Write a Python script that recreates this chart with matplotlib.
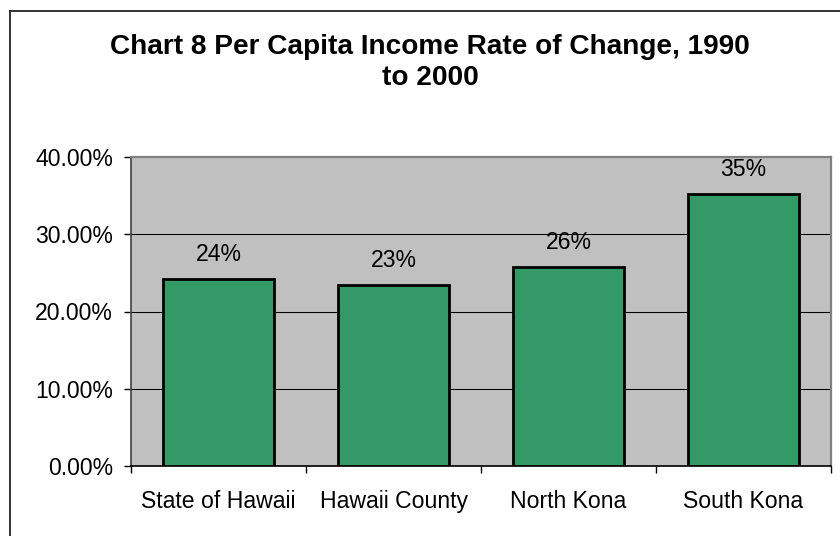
import matplotlib
matplotlib.use("Agg")
import matplotlib.pyplot as plt
from matplotlib.lines import Line2D
from matplotlib.ticker import FuncFormatter, FixedLocator

plt.rcParams["font.family"] = ["Liberation Sans", "DejaVu Sans"]

# Per capita income rate of change, 1990 to 2000
areas = ["State of Hawaii", "Hawaii County", "North Kona", "South Kona"]
change = [0.242, 0.234, 0.257, 0.352]
y_ticks = [0.0, 0.1, 0.2, 0.3, 0.4]

W, H = 840, 536
fig = plt.figure(figsize=(W / 100, H / 100), dpi=100)
fig.patch.set_facecolor("white")

ax = fig.add_axes([131 / W, 1 - 466 / H, 700 / W, 309 / H])
ax.set_facecolor("#c0c0c0")

x = range(len(areas))
bars = ax.bar(x, change, width=0.63, color="#339966", edgecolor="black",
              linewidth=2.0, zorder=3)

for rect, v in zip(bars, change):
    ax.annotate(f"{v:.0%}", (rect.get_x() + rect.get_width() / 2, v),
                xytext=(0, 18), textcoords="offset points",
                ha="center", va="center", fontsize=16.6, color="black")

ax.set_xlim(-0.5, len(areas) - 0.5)
ax.set_ylim(0, 0.4)
ax.yaxis.set_major_locator(FixedLocator(y_ticks))
ax.yaxis.set_major_formatter(FuncFormatter(lambda v, _: f"{v * 100:.2f}%"))
ax.grid(axis="y", color="black", linewidth=0.75, zorder=1)
ax.set_axisbelow(True)

ax.set_xticks(list(x))
ax.set_xticklabels(areas)
ax.set_xticks([i - 0.5 for i in range(len(areas) + 1)], minor=True)
ax.tick_params(axis="x", which="major", length=0, pad=17, labelsize=16.6)
ax.tick_params(axis="x", which="minor", length=5, width=1, color="black")
ax.tick_params(axis="y", length=5, width=1, pad=8, labelsize=16.6)

for side in ("top", "right"):
    ax.spines[side].set_color("#808080")
    ax.spines[side].set_linewidth(1.6)
ax.spines["left"].set_color("#404040")
ax.spines["left"].set_linewidth(1.2)
ax.spines["bottom"].set_color("black")
ax.spines["bottom"].set_linewidth(1.2)

fig.text(430 / W, 1 - 62 / H,
         "Chart 8 Per Capita Income Rate of Change, 1990\nto 2000",
         ha="center", va="center", fontsize=20.2, fontweight="bold",
         linespacing=1.25)

# chart frame
fig.add_artist(Line2D([9.5 / W, 9.5 / W], [0, 1 - 10.5 / H], color="#222222",
                      linewidth=1.3, transform=fig.transFigure))
fig.add_artist(Line2D([9.5 / W, 1], [1 - 10.5 / H, 1 - 10.5 / H], color="#222222",
                      linewidth=1.3, transform=fig.transFigure))

fig.savefig("out.png", dpi=100)
